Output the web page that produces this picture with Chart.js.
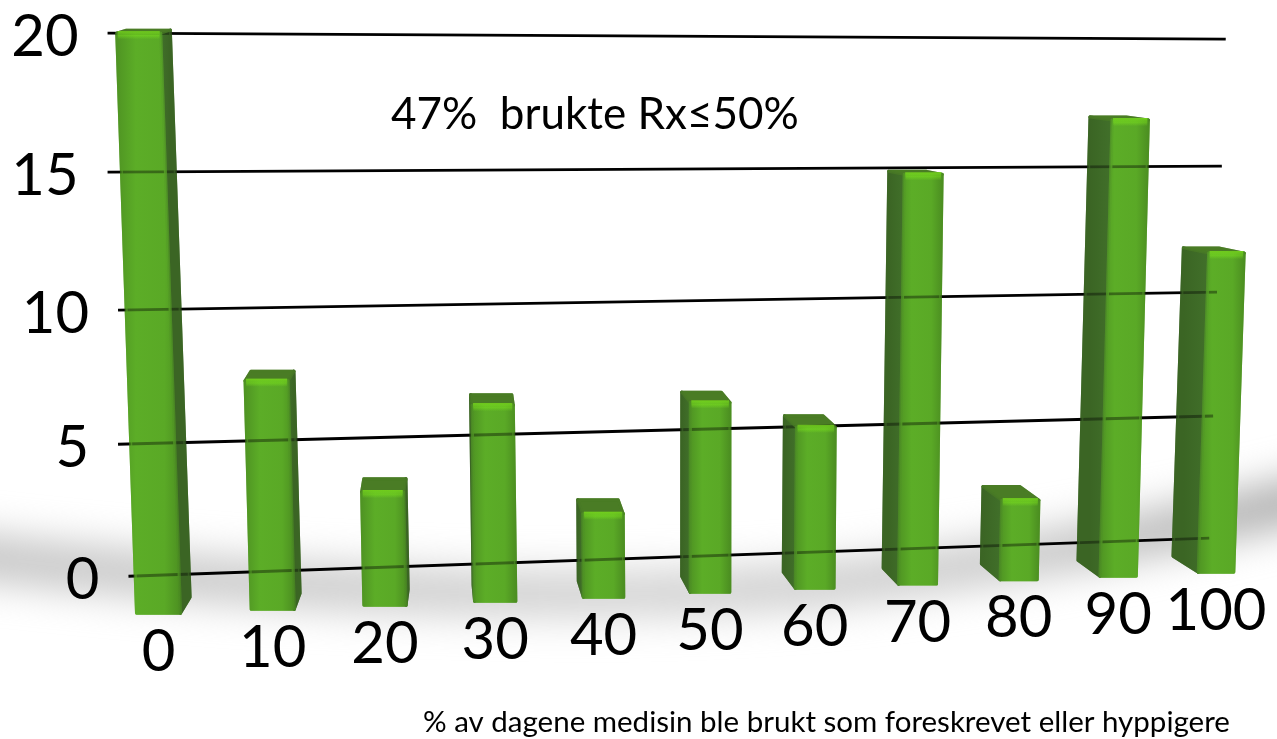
<!DOCTYPE html>
<html><head><meta charset="utf-8">
<style>html,body{margin:0;padding:0;background:#fff}canvas{display:block}</style>
<script src="https://cdn.jsdelivr.net/npm/chart.js@4"></script>
</head><body>
<canvas id="c" width="1277" height="739"></canvas>
<script>
const categories = [0,10,20,30,40,50,60,70,80,90,100];
const barTops    = [20.0,7.2,3.1,6.3,2.3,6.4,5.5,14.8,2.8,16.8,11.9];
const barFloors  = [-1.36,-1.22,-1.07,-0.92,-0.77,-0.59,-0.44,-0.29,-0.13,0,0.15];
const yTicks     = [0,5,10,15,20];
const gridLeftLevel  = [0,4.86,9.8,14.88,20];
const gridRightLevel = [1.4,5.9,10.46,15.1,19.78];
const gridLeftX  = [-2.6,-3.5,-3.5,-4.4,-4.4];
const gridRightX = [99.3,99.7,100.1,100.6,101];
const noteText = '47%  brukte Rx\u226450%';
const xTitleText = '% av dagene medisin ble brukt som foreskrevet eller hyppigere';
const FONT = 'Lato';

// x scale with perspective foreshortening
class PerspectiveScale extends Chart.LinearScale {
  getPixelForValue(v){
    const u = v/10;
    return this.left + 58.5 + 115.26*u/(1+0.00899*u);
  }
  getPixelForTick(i){ return this.getPixelForValue(this.ticks[i].value); }
  _computeLabelArea(){ return undefined; }
  _computeLabelItems(area){
    const items = super._computeLabelItems(area);
    const ys = this.chart.scales.y;
    items.forEach((it,i)=>{
      const px = this.getPixelForValue(categories[i]);
      it.textOffset = 0;
      it.options.textBaseline = 'middle';
      it.options.textAlign = 'center';
      it.options.translation = [px, ys.getPixelForValue(barFloors[i]) + 39];
    });
    return items;
  }
}
PerspectiveScale.id = 'perspective';
PerspectiveScale.defaults = Chart.LinearScale.defaults;

class TiltedYScale extends Chart.LinearScale {
  _computeLabelArea(){ return undefined; }
  _computeLabelItems(area){
    const items = super._computeLabelItems(area);
    const xs = this.chart.scales.x;
    items.forEach((it,i)=>{
      it.textOffset = 0;
      it.options.textBaseline = 'middle';
      it.options.textAlign = 'right';
      it.options.translation = [xs.getPixelForValue(gridLeftX[i]) - 29, this.getPixelForValue(gridLeftLevel[i]) + 4];
    });
    return items;
  }
}
TiltedYScale.id = 'tiltedY';
TiltedYScale.defaults = Chart.LinearScale.defaults;
Chart.register(PerspectiveScale, TiltedYScale);

function drawBar(ctx, e){
  const {x, y:top, base} = e;
  const lean = py => x + 0.000063*(x-700)*(base-py);
  const w = 44 - 0.008*(x-158);
  const side = -0.033*(x-450);
  const depth = Math.max(3, (top-100)*0.034);
  const fl = lean(top)-w/2, fr = lean(top)+w/2, bl = lean(base)-w/2, br = lean(base)+w/2;
  const tOut = side>0 ? fr : fl, bOut = side>0 ? br : bl;
  ctx.lineJoin='round';
  let g = ctx.createLinearGradient(tOut,0,tOut+side,0);
  g.addColorStop(0,'#41702a'); g.addColorStop(1,'#3b6524');
  ctx.fillStyle=g; ctx.strokeStyle=g; ctx.lineWidth=3;
  ctx.beginPath();
  ctx.moveTo(tOut,top); ctx.lineTo(tOut+side,top-depth);
  ctx.lineTo(bOut+side,base-16); ctx.lineTo(bOut,base); ctx.closePath();
  ctx.fill(); ctx.stroke();
  ctx.fillStyle='#4a7d25'; ctx.strokeStyle='#4a7d25';
  ctx.beginPath();
  ctx.moveTo(fl,top); ctx.lineTo(fr,top); ctx.lineTo(fr+side,top-depth); ctx.lineTo(fl+side,top-depth); ctx.closePath();
  ctx.fill(); ctx.stroke();
  g = ctx.createLinearGradient(Math.min(fl,bl),0,Math.max(fr,br),0);
  g.addColorStop(0,'#4f9423'); g.addColorStop(0.3,'#5cad27'); g.addColorStop(0.75,'#5aa926'); g.addColorStop(1,'#4c8f21');
  ctx.fillStyle=g; ctx.strokeStyle=g; ctx.lineWidth=3;
  ctx.beginPath();
  ctx.moveTo(fl,top); ctx.lineTo(fr,top); ctx.lineTo(br,base); ctx.lineTo(bl,base); ctx.closePath();
  ctx.fill(); ctx.stroke();
  g = ctx.createLinearGradient(0,top-2,0,top+6);
  g.addColorStop(0,'rgba(130,240,25,1)'); g.addColorStop(1,'rgba(130,240,25,0)');
  ctx.fillStyle=g;
  ctx.fillRect(fl+1,top-2,w-2,8);
}

const scene = {
  id:'scene',
  beforeDraw(chart){
    const ctx = chart.ctx; ctx.save();
    ctx.filter='blur(20px)'; ctx.lineCap='butt'; ctx.lineJoin='round';
    const g = ctx.createLinearGradient(0,0,1277,0);
    g.addColorStop(0,'#bdbdbd'); g.addColorStop(0.5,'#cdcdcd'); g.addColorStop(0.8,'#c4c4c4'); g.addColorStop(1,'#a6a6a6');
    ctx.strokeStyle=g; ctx.lineWidth=40;
    ctx.beginPath(); ctx.moveTo(-60,552); ctx.bezierCurveTo(250,590,650,612,900,575); ctx.bezierCurveTo(1050,555,1180,530,1340,490);
    ctx.stroke(); ctx.restore();
  },
  beforeDatasetDraw(chart,args){
    if(args.index!==0) return;
    const ctx=chart.ctx; ctx.save();
    args.meta.data.forEach(el=>drawBar(ctx, el.getProps(['x','y','base'],true)));
    ctx.restore();
    return false;
  },
  afterDatasetsDraw(chart){
    const ctx=chart.ctx; ctx.save(); ctx.globalAlpha=0.62;
    chart.getDatasetMeta(0).data.forEach(el=>{
      const p = el.getProps(['x','y','base'],true);
      ctx.save(); ctx.globalAlpha=0.62; drawBar(ctx,p); ctx.restore();
    });
    ctx.restore();
    ctx.save(); ctx.fillStyle='#000'; ctx.textBaseline='alphabetic'; ctx.textAlign='left';
    ctx.font='44px '+FONT; ctx.fillText(noteText,391,129);
    ctx.font='29.5px '+FONT; ctx.fillText(xTitleText,423,732);
    ctx.restore();
  }
};

const gridDatasets = yTicks.map((t,i)=>({
  type:'line', order:1, borderColor:'#000', borderWidth:2.8, pointRadius:0, tension:0, clip:false,
  data:[{x:gridLeftX[i],y:gridLeftLevel[i]},{x:gridRightX[i],y:gridRightLevel[i]}]
}));

new Chart(document.getElementById('c'),{
  type:'bar',
  data:{datasets:[
    {type:'bar',order:10,data:categories.map((c,i)=>({x:c,y:[barFloors[i],barTops[i]]})),backgroundColor:'#5aa627'},
    ...gridDatasets
  ]},
  options:{
    responsive:false, animation:false, devicePixelRatio:1,
    layout:{padding:{top:6,left:0,right:0,bottom:0}},
    plugins:{legend:{display:false},tooltip:{enabled:false},title:{display:false}},
    scales:{
      x:{type:'perspective',min:-8,max:110,position:'bottom',
        grid:{display:false},border:{display:false},
        afterBuildTicks(s){s.ticks=categories.map(v=>({value:v}));},
        afterFit(s){s.height=27;s.paddingLeft=0;s.paddingRight=0;s.paddingTop=0;s.paddingBottom=0;},
        ticks:{autoSkip:false,maxRotation:0,minRotation:0,color:'#000',font:{family:FONT,size:58},callback:v=>String(v),padding:0}},
      y:{type:'tiltedY',min:-5,max:21,position:'left',
        grid:{display:false},border:{display:false},
        afterBuildTicks(s){s.ticks=yTicks.map(v=>({value:v}));},
        afterFit(s){s.width=100;s.paddingTop=0;s.paddingBottom=0;s.paddingLeft=0;s.paddingRight=0;},
        ticks:{color:'#000',font:{family:FONT,size:58},callback:v=>String(v),padding:0}}
    }
  },
  plugins:[scene]
});
</script>
</body></html>
